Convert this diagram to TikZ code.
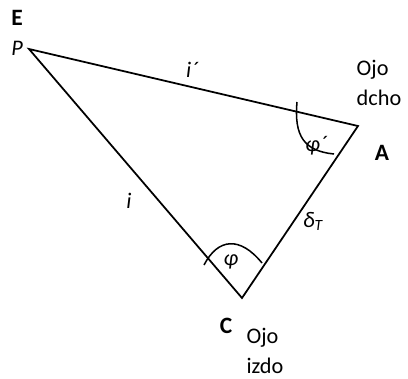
\documentclass[tikz,border=0pt]{standalone}
\usepackage{fontspec}
\setmainfont{Carlito}
\usepackage{tikz}
\usetikzlibrary{positioning, calc}
\definecolor{mydark}{RGB}{0,0,0}
\tikzset{
  side/.style={line width=1.5pt, color=mydark, line join=miter},
  anglemark/.style={line width=1.3pt, color=mydark},
  vertexlbl/.style={font=\fontsize{20}{22}\selectfont\bfseries, inner sep=0pt},
  lbl/.style={font=\fontsize{19}{21}\selectfont, inner sep=0pt},
  ilbl/.style={font=\fontsize{19}{21}\selectfont\itshape, inner sep=0pt}
}
\begin{document}
\begin{tikzpicture}[x=0.03cm, y=-0.03cm]
  \useasboundingbox (0,0) rectangle (408,378);
  % Vertices
  \coordinate (P) at (29,49);
  \coordinate (A) at (358,126);
  \coordinate (C) at (242,298);

  % Triangle
  \draw[side] (P) -- (A) -- (C) -- cycle;

  % Angle marks
  \draw[anglemark] (204,265) .. controls (218,238) and (240,236) .. (262,263);
  \draw[anglemark] (297,102) .. controls (294,136) and (304,151) .. (334,154);

  % Vertex labels
  \node[vertexlbl] (E) at (17,18) {E};
  \node[ilbl] (Plbl) at (17,48) {P};
  \node[vertexlbl] (Albl) at (382,153) {A};
  \node[vertexlbl] (Clbl) at (226,326) {C};

  % Side labels
  \node[ilbl] (itop) at (192,70) {i´};
  \node[ilbl] (ileft) at (129,201) {i};
  \node[ilbl] (delta) at (313,221) {δ\textsubscript{T}};

  % Angle labels
  \node[ilbl] (phi) at (231,262) {φ};
  \node[ilbl] (phip) at (316,146) {φ´};

  % Eye labels
  \node[lbl, align=left] (right) at (379,83) {Ojo\\[4pt]dcho};
  \node[lbl, align=left] (left) at (265,351) {Ojo\\[4pt]izdo};
\end{tikzpicture}
\end{document}
